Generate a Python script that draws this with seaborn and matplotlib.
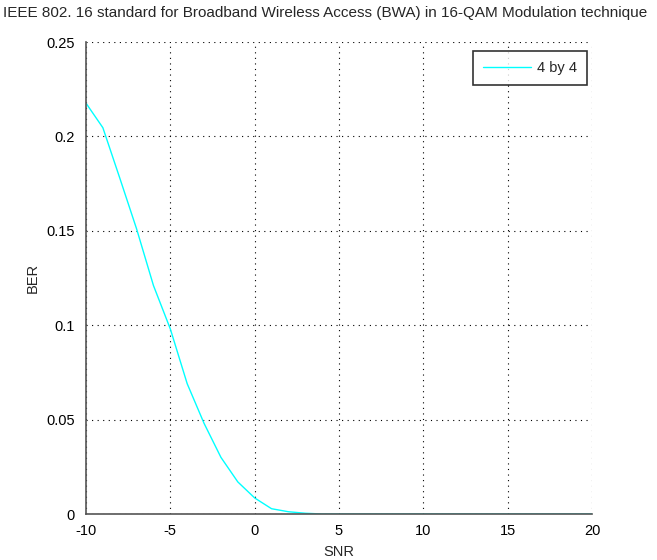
import numpy as np
import pandas as pd
import matplotlib
matplotlib.use("Agg")
import matplotlib.pyplot as plt
import seaborn as sns

snr = [-10, -9, -8, -7, -6, -5, -4, -3, -2, -1, 0, 1, 2, 3, 4, 5, 6, 7, 8, 9, 10,
       11, 12, 13, 14, 15, 16, 17, 18, 19, 20]
ber = [0.2176, 0.2046, 0.178, 0.151, 0.121, 0.098, 0.069, 0.048, 0.030, 0.017,
       0.0085, 0.0028, 0.0012, 0.0004, 0.0, 0.0, 0.0, 0.0, 0.0, 0.0, 0.0,
       0.0, 0.0, 0.0, 0.0, 0.0, 0.0, 0.0, 0.0, 0.0, 0.0]
series_label = "4 by 4"
title = "IEEE 802. 16 standard for Broadband Wireless Access (BWA) in 16-QAM Modulation technique"
xticks = [-10, -5, 0, 5, 10, 15, 20]
yticks = [0, 0.05, 0.1, 0.15, 0.2, 0.25]

df = pd.DataFrame({"SNR": snr, "BER": ber, "series": series_label})

sns.set_style("white")
plt.rcParams['font.family'] = ['Liberation Sans', 'DejaVu Sans']

fig = plt.figure(figsize=(6.57, 5.6), dpi=100)
ax = fig.add_axes([86/657, 1 - 514/560, (592 - 86)/657, (514 - 42)/560])

sns.lineplot(data=df, x="SNR", y="BER", hue="series", palette=["#00ffff"],
             linewidth=1.0, ax=ax)

ax.set_xlim(-10, 20)
ax.set_ylim(0, 0.25)
ax.set_xticks(xticks)
ax.set_xticklabels([str(t) for t in xticks])
ax.set_yticks(yticks)
ax.set_yticklabels(["0", "0.05", "0.1", "0.15", "0.2", "0.25"])
ax.grid(True, linestyle=(0, (1, 4)), color="black", linewidth=0.8)
ax.tick_params(direction="in", length=4, width=1, color="#444444",
               labelsize=10.5, labelcolor="black")
ax.tick_params(axis="x", pad=7)
ax.tick_params(axis="y", pad=8)
for s in ["top", "right"]:
    ax.spines[s].set_visible(False)
for s in ["left", "bottom"]:
    ax.spines[s].set_color("#555555")
    ax.spines[s].set_linewidth(1.2)

ax.set_xlabel("SNR", fontsize=10.5, labelpad=5)
ax.set_ylabel("BER", fontsize=10.5, labelpad=5)
fig.text(3/657, 1 - 13/560, title, fontsize=11.0, ha="left", va="center")

leg = ax.legend(loc="upper right", frameon=True, fancybox=False, fontsize=10.5,
                handlelength=3.3, handletextpad=0.4, borderpad=0.7,
                borderaxespad=0, edgecolor="black",
                bbox_to_anchor=(0.99, 0.981))
leg.get_frame().set_linewidth(1.2)

fig.savefig("out.png", dpi=100)
